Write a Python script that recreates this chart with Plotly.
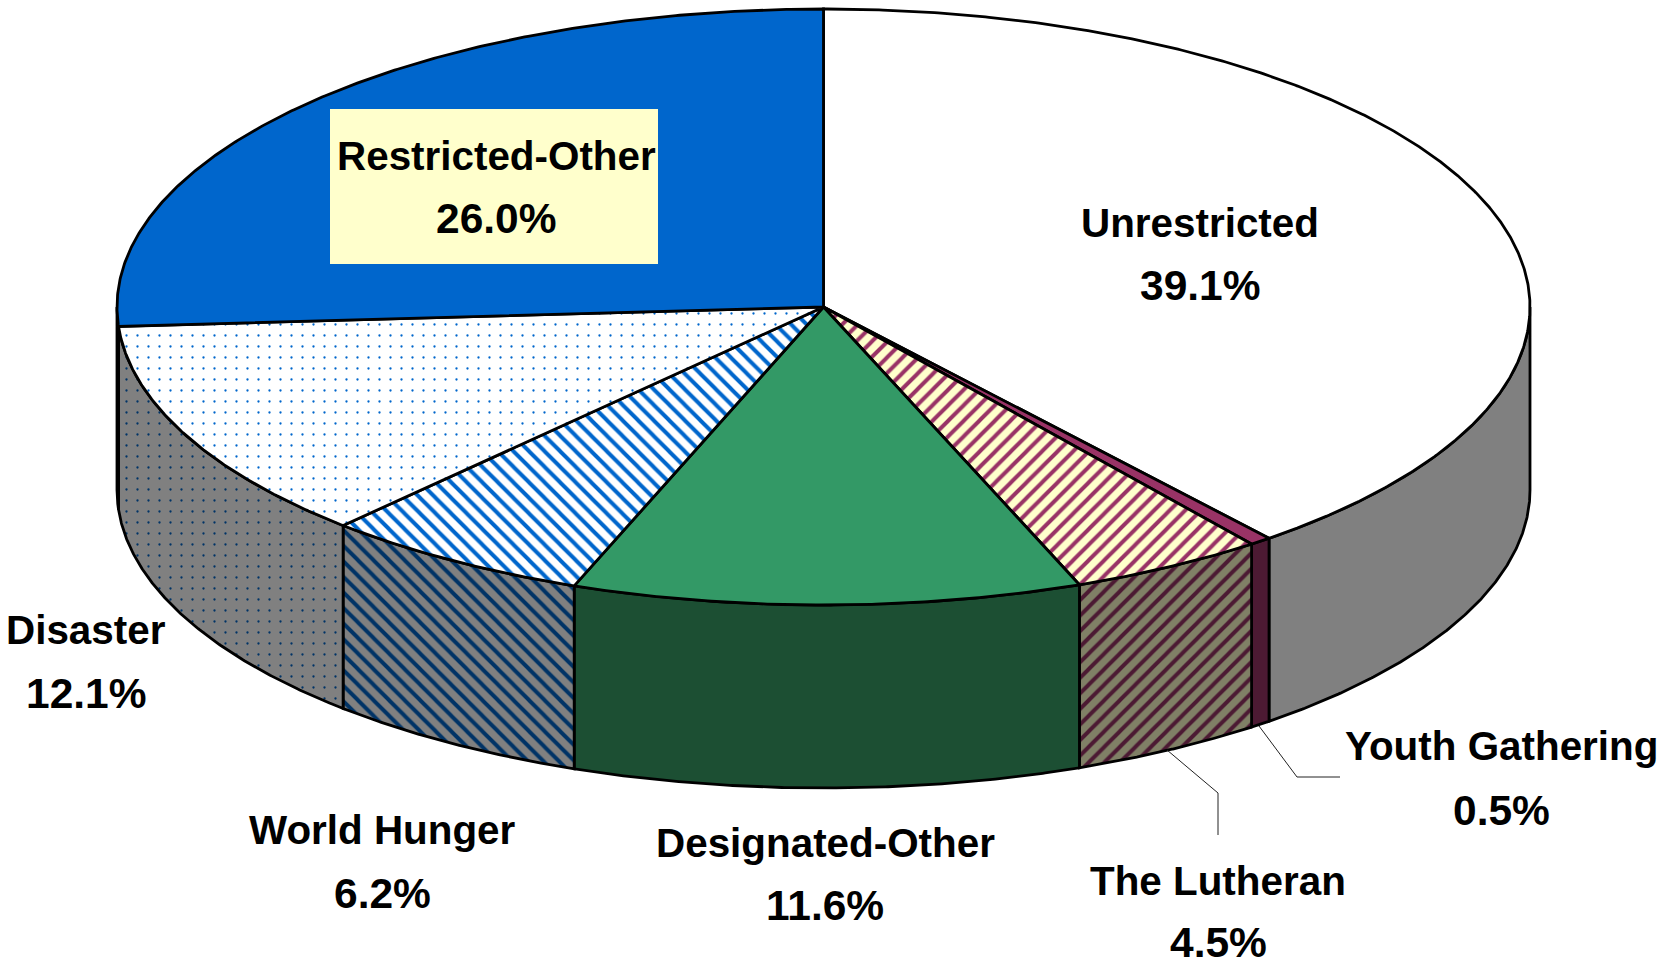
import numpy as np
import plotly.graph_objects as go

categories = ["Unrestricted", "Youth Gathering", "The Lutheran", "Designated-Other",
              "World Hunger", "Disaster", "Restricted-Other"]
percent_labels = ["39.1%", "0.5%", "4.5%", "11.6%", "6.2%", "12.1%", "26.0%"]
# shares read from the slice edges, each consistent with its printed one-decimal label
values = [39.14, 0.50, 4.46, 11.64, 6.16, 12.06, 26.04]

# ---- styling / geometry, separate from the data ----
CX, CY, RX, RY, DEPTH = 823.5, 307.0, 706.5, 298.0, 183.0
W, H = 1658, 964
GRAY, BLUE, NAVY = "#808080", "#0066CC", "#003366"
top_styles = [
    dict(bg="#FFFFFF"),
    dict(bg="#993366"),
    dict(bg="#FFFFCC", fg="#993366", shape="/", size=11, sol=0.36),
    dict(bg="#339966"),
    dict(bg="#FFFFFF", fg=BLUE, shape="\\", size=11, sol=0.36),
    dict(bg="#FFFFFF", fg=BLUE, shape=".", size=11, sol=0.035),
    dict(bg=BLUE),
]
side_styles = [
    dict(bg=GRAY),
    dict(bg="#4C1A33"),
    dict(bg="#808066", fg="#4C1A33", shape="/", size=11, sol=0.36),
    dict(bg="#1C4F33"),
    dict(bg=GRAY, fg=NAVY, shape="\\", size=11, sol=0.36),
    dict(bg=GRAY, fg=NAVY, shape=".", size=11, sol=0.035),
    dict(bg=GRAY),
]
label_pos = {
    "Unrestricted": (1200, 223, 285),
    "Youth Gathering": (1501, 746, 810),
    "The Lutheran": (1218, 881, 942),
    "Designated-Other": (825, 843, 905),
    "World Hunger": (382, 830, 893),
    "Disaster": (86, 630, 693),
    "Restricted-Other": (496, 156, 218),
}
leader_x = [[1167, 1218, 1218], [1259, 1297, 1340]]
leader_y = [[750, 793, 835], [726, 777, 777]]


def ell(theta, dy=0.0):
    return CX + RX * np.sin(theta), CY - RY * np.cos(theta) + dy


def fill_args(st):
    args = dict(fillcolor=st["bg"])
    if "shape" in st:
        args["fillpattern"] = dict(shape=st["shape"], bgcolor=st["bg"], fgcolor=st["fg"],
                                   size=st["size"], solidity=st["sol"], fillmode="replace")
    return args


fig = go.Figure()
edges = np.cumsum([0] + values) / sum(values) * 2 * np.pi

# side walls (front half only)
for i in range(len(values)):
    a, b = max(edges[i], np.pi / 2), min(edges[i + 1], 3 * np.pi / 2)
    if a >= b:
        continue
    t = np.linspace(a, b, 200)
    x0, y0 = ell(t)
    x1, y1 = ell(t[::-1], DEPTH)
    fig.add_trace(go.Scatter(
        x=np.r_[x0, x1, x0[0]], y=np.r_[y0, y1, y0[0]], mode="lines", fill="toself",
        line=dict(color="black", width=2.8), hoverinfo="skip", showlegend=False,
        **fill_args(side_styles[i])))

# top faces
for i in range(len(values)):
    t = np.linspace(edges[i], edges[i + 1], max(int(values[i] * 12), 8))
    x0, y0 = ell(t)
    fig.add_trace(go.Scatter(
        x=np.r_[CX, x0, CX], y=np.r_[CY, y0, CY], mode="lines", fill="toself",
        line=dict(color="black", width=2.8), hoverinfo="skip", showlegend=False,
        name=categories[i], **fill_args(top_styles[i])))

# leader lines
for lx, ly in zip(leader_x, leader_y):
    fig.add_trace(go.Scatter(x=lx, y=ly, mode="lines", line=dict(color="#222222", width=1),
                             hoverinfo="skip", showlegend=False))

FAMILY = "Liberation Sans, Arial, sans-serif"
for cat, pct in zip(categories, percent_labels):
    x, y1, y2 = label_pos[cat]
    for yy, txt, size in ((y1, cat, 40.4), (y2, pct, 42.5)):
        fig.add_annotation(x=x, y=yy, xref="x", yref="y", text=f"<b>{txt}</b>", showarrow=False,
                           font=dict(family=FAMILY, size=size, color="black"),
                           xanchor="center", yanchor="middle")

fig.add_shape(type="rect", x0=330, x1=658, y0=109, y1=264, xref="x", yref="y",
              fillcolor="#FFFFCC", line=dict(width=0), layer="above")

fig.update_layout(
    width=W, height=H, autosize=False, margin=dict(l=0, r=0, t=0, b=0),
    paper_bgcolor="white", plot_bgcolor="white", showlegend=False,
    xaxis=dict(range=[0, W], visible=False, fixedrange=True),
    yaxis=dict(range=[H, 0], visible=False, fixedrange=True),
)
fig.write_html("out.html", config=dict(displayModeBar=False),
               post_script="document.body.style.margin='0';document.documentElement.style.overflow='hidden';")
